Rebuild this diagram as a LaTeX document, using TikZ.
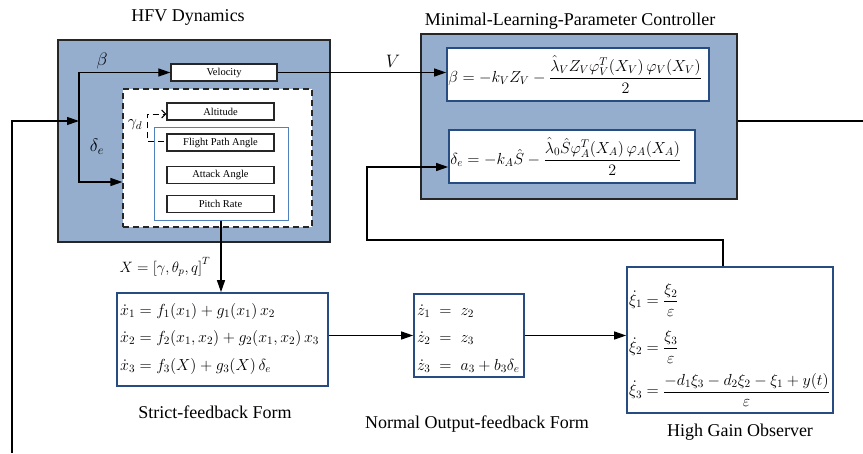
\RequirePackage{fix-cm}
\documentclass[tikz,border=0pt]{standalone}
\usepackage{amsmath}
\usepackage{fontspec}
\setmainfont{Liberation Serif}
\usetikzlibrary{arrows.meta}
\definecolor{panelblue}{RGB}{149,174,206}
\definecolor{eqblue}{RGB}{38,76,130}
\definecolor{innerblue}{RGB}{79,129,189}
\begin{document}
\begin{tikzpicture}[x=1pt,y=-1pt,
  title/.style={font=\fontsize{18}{20}\selectfont, inner sep=0pt},
  sym/.style={font=\fontsize{18}{20}\selectfont, inner sep=0pt},
  eqtext/.style={font=\fontsize{16}{18}\selectfont, inner sep=0pt, anchor=west},
  panel/.style={draw=black!85, line width=1.3pt, fill=panelblue, inner sep=0pt},
  wbox/.style={draw=black!85, line width=1.3pt, fill=white, inner sep=0pt,
    minimum width=107pt, minimum height=17pt, font=\fontsize{10.5}{12}\selectfont},
  eqbox/.style={draw=eqblue, line width=1.7pt, fill=white, inner sep=0pt},
  wire/.style={line width=1.2pt, black},
  arr/.style={wire, -{Triangle[length=12pt,width=8pt]}},
  gamwire/.style={line width=1pt, black, dash pattern=on 6pt off 4pt, -{Straight Barb[length=4pt,width=8pt]}}
]
\path[use as bounding box] (0,0) rectangle (863,453);

% ---------------- HFV dynamics block ----------------
\node[title] (tHFV) at (188,17) {HFV Dynamics};
\node[panel, minimum width=272pt, minimum height=202pt] (hfv) at (194,141) {};
\node[wbox, minimum width=106pt] (vel) at (224,72.5) {Velocity};
\node[draw=black!85, line width=1.2pt, dash pattern=on 6pt off 4pt, fill=white,
      minimum width=189pt, minimum height=138pt, inner sep=0pt] (states) at (217.5,158) {};
\node[draw=innerblue, line width=1pt, minimum width=134pt, minimum height=93pt, inner sep=0pt] (attit) at (221,173.5) {};
\node[wbox] (alt) at (220.5,111.5) {Altitude};
\node[wbox] (fpa) at (220.5,142.5) {Flight Path Angle};
\node[wbox] (aoa) at (220.5,175) {Attack Angle};
\node[wbox] (pr) at (220.5,204) {Pitch Rate};

% gamma_d reference path
\coordinate (g1) at (147,141);
\coordinate (g2) at (147,114);
\draw[gamwire] ([xshift=-2pt]fpa.west |- g1) -- (g1) -- (g2) -- (alt.west |- g2);
\node[sym, font=\fontsize{16}{18}\selectfont] (lgam) at (135,125) {$\gamma_d$};

% control inputs
\coordinate (inB) at (12,453);
\coordinate (jn) at (79,121);
\coordinate (jd) at (79,182);
\draw[arr] (inB) |- (jn);
\draw[arr] (jn) |- (vel.west);
\draw[arr] (jn) |- (states.west |- jd);
\node[sym] (lbeta) at (102,61) {$\beta$};
\node[sym] (ldelta) at (97,147) {$\delta_e$};

% ---------------- controller block ----------------
\node[title] (tMLP) at (570,21) {Minimal-Learning-Parameter Controller};
\node[panel, minimum width=316pt, minimum height=165pt] (ctrl) at (579,116.5) {};
\node[eqbox, minimum width=262pt, minimum height=53pt] (beq) at (578,74.5) {};
\node[eqbox, minimum width=246pt, minimum height=53pt] (deq) at (572,156.5) {};
\node[eqtext] (beqt) at ([xshift=2pt]beq.west)
  {$\beta=-k_V Z_V-\dfrac{\hat{\lambda}_V Z_V\varphi_V^T(X_V)\,\varphi_V(X_V)}{2}$};
\node[eqtext] (deqt) at ([xshift=2pt]deq.west)
  {$\delta_e=-k_A\hat{S}-\dfrac{\hat{\lambda}_0\hat{S}\varphi_A^T(X_A)\,\varphi_A(X_A)}{2}$};

\draw[arr] (vel.east) -- (vel.east -| beq.west);
\node[sym] (lV) at (393,61) {$V$};
\coordinate (outR) at (863,121);
\draw[wire] (ctrl.east |- outR) -- (outR);

% ---------------- strict-feedback form ----------------
\node[eqbox, minimum width=211pt, minimum height=93pt] (strict) at (222.5,339.5) {};
\node[eqtext] (s1) at (120,311) {$\dot{x}_1=f_1(x_1)+g_1(x_1)\,x_2$};
\node[eqtext] (s2) at (120,338) {$\dot{x}_2=f_2(x_1,x_2)+g_2(x_1,x_2)\,x_3$};
\node[eqtext] (s3) at (120,366) {$\dot{x}_3=f_3(X)+g_3(X)\,\delta_e$};
\node[title] (tSF) at (215,412) {Strict-feedback Form};
\draw[arr] (attit.south) -- (attit.south |- strict.north);
\node[sym, font=\fontsize{15}{17}\selectfont] (lX) at (165,267) {$X=\left[\gamma,\theta_p,q\right]^T$};

% ---------------- normal output-feedback form ----------------
\node[eqbox, minimum width=110pt, minimum height=83pt] (normal) at (469,335.5) {};
\node[eqtext] (n1) at (417,311) {$\dot{z}_1\;=\;z_2$};
\node[eqtext] (n2) at (417,338) {$\dot{z}_2\;=\;z_3$};
\node[eqtext] (n3) at (417,366) {$\dot{z}_3\;=\;a_3+b_3\delta_e$};
\node[title] (tNO) at (477,424) {Normal Output-feedback Form};
\draw[arr] (strict.east |- normal.west) -- (normal.west);

% ---------------- high gain observer ----------------
\node[eqbox, minimum width=206pt, minimum height=146pt] (obs) at (730,340) {};
\node[eqtext] (o1) at (629,300) {$\dot{\xi}_1=\dfrac{\xi_2}{\varepsilon}$};
\node[eqtext] (o2) at (629,347) {$\dot{\xi}_2=\dfrac{\xi_3}{\varepsilon}$};
\node[eqtext] (o3) at (629,390) {$\dot{\xi}_3=\dfrac{-d_1\xi_3-d_2\xi_2-\xi_1+y(t)}{\varepsilon}$};
\node[title] (tHG) at (740,432) {High Gain Observer};
\draw[arr] (normal.east) -- (normal.east -| obs.west);

% observer feedback to the elevator law
\coordinate (fb1) at (723,240);
\coordinate (fb2) at (367,167);
\draw[arr] (obs.north -| fb1) -- (fb1) -| (fb2) -- (fb2 -| deq.west);
\end{tikzpicture}
\end{document}
